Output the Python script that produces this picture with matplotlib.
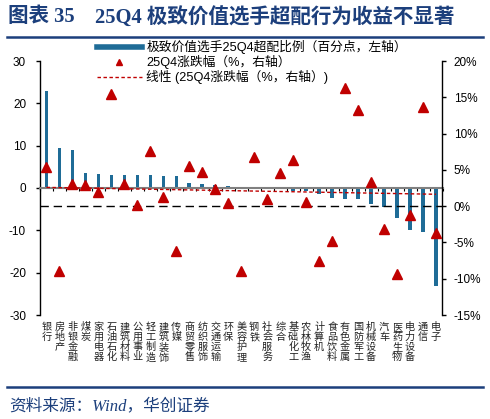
import numpy as np
import matplotlib
matplotlib.use('Agg')
import matplotlib.pyplot as plt
from matplotlib.lines import Line2D
from matplotlib.ticker import FuncFormatter

plt.rcParams['font.family'] = ['Liberation Sans', 'Noto Sans CJK SC']
plt.rcParams['axes.unicode_minus'] = False

# 申万一级行业，按超配比例排序
industries = ['银行', '房地产', '非银金融', '煤炭', '家用电器', '石油石化', '建筑材料',
              '公用事业', '轻工制造', '建筑装饰', '传媒', '商贸零售', '纺织服饰', '交通运输',
              '环保', '美容护理', '钢铁', '社会服务', '综合', '基础化工', '农林牧渔', '计算机',
              '食品饮料', '有色金属', '国防军工', '机械设备', '汽车', '医药生物', '电力设备',
              '通信', '电子']
# 极致价值选手25Q4超配比例（百分点，左轴）
overweight = [23.0, 9.4, 9.0, 3.6, 3.3, 3.1, 3.0, 3.0, 3.0, 2.8, 2.8, 1.25, 0.95, 0.8,
              0.45, 0.25, 0.1, 0.0, -0.15, -0.7, -0.7, -1.3, -2.4, -2.5, -2.6, -3.85,
              -4.5, -7.1, -10.0, -10.5, -23.2]
# 25Q4涨跌幅（%，右轴）
ret_q4 = [5.4, -8.9, 3.0, 2.9, 2.0, 15.4, 3.0, 0.1, 7.6, 1.25, -6.2, 5.5, 4.7, 2.3,
          0.4, -8.9, 6.8, 1.0, 4.5, 6.3, 0.6, -7.6, -4.8, 16.3, 13.2, 3.3, -3.2, -9.3,
          -1.25, 13.7, -3.7]

navy = '#1c3f7c'
bar_blue = '#1f6c97'
red = '#c00000'

x = np.arange(len(industries))
fit = np.polyfit(x, ret_q4, 1)
trend = np.polyval(fit, x)

fig = plt.figure(figsize=(4.9, 4.19), dpi=100)
ax = fig.add_axes([40 / 490, 1 - 315 / 419, 402.5 / 490, 254 / 419])
ax2 = ax.twinx()

ax.bar(x, overweight, width=0.28, color=bar_blue, zorder=2)
ax.set_xlim(-0.5, len(industries) - 0.5)
ax.set_ylim(-30, 30)
ax.set_yticks([-30, -20, -10, 0, 10, 20, 30])
ax.tick_params(axis='y', direction='out', length=3, width=1, pad=7, labelsize=8.5)
ax.spines['top'].set_visible(False)
ax.spines['right'].set_visible(False)
ax.spines['left'].set_linewidth(1)
ax.spines['bottom'].set_position(('data', 0))
ax.spines['bottom'].set_color('#808080')
ax.spines['bottom'].set_linewidth(1.5)
ax.set_xticks(x)
ax.set_xticklabels([])
ax.tick_params(axis='x', which='major', length=0)
ax.set_xticks(np.arange(len(industries) + 1) - 0.5, minor=True)
ax.tick_params(axis='x', which='minor', direction='out', length=2.5, width=0.8, color='black')

for i, name in enumerate(industries):
    ax.text(i, -0.028, '\n'.join(name), transform=ax.get_xaxis_transform(),
            ha='center', va='top', fontsize=7.3, linespacing=1.0,
            family=['Noto Sans CJK SC'], color='#222222')

ax2.set_ylim(-15, 20)
ax2.set_yticks([-15, -10, -5, 0, 5, 10, 15, 20])
ax2.yaxis.set_major_formatter(FuncFormatter(lambda v, p: '%d%%' % v))
ax2.tick_params(axis='y', direction='out', length=3, width=1, pad=5, labelsize=8.5)
for s in ['top', 'left', 'bottom']:
    ax2.spines[s].set_visible(False)
ax2.spines['right'].set_linewidth(1)
ax2.axhline(0, color='black', lw=1, ls=(0, (6, 3.5)), zorder=1)
ax2.plot(x, trend, color=red, lw=1, ls=(0, (2.5, 1.8)), zorder=2)
ax2.plot(x, ret_q4, ls='none', marker='^', ms=7, color=red, zorder=3)

handles = [Line2D([], [], color=bar_blue, lw=4),
           Line2D([], [], ls='none', marker='^', ms=5, color=red),
           Line2D([], [], color=red, lw=1, ls=(0, (2.5, 1.8)))]
labels = ['极致价值选手25Q4超配比例（百分点，左轴）', '25Q4涨跌幅（%，右轴）',
          '线性 (25Q4涨跌幅（%，右轴）)']
fig.legend(handles, labels, loc='upper left', bbox_to_anchor=(97 / 490, 1 - 40 / 419),
           frameon=False, handlelength=3.5, handletextpad=0.35,
           labelspacing=0.08, borderpad=0, borderaxespad=0,
           prop={'family': ['Liberation Sans', 'Noto Sans CJK SC'], 'size': 9.2})

# 标题、分隔线与资料来源
fig.text(8 / 490, 1 - 17 / 419, '图表 35', fontsize=14.8, fontweight='bold', color=navy,
         va='center', ha='left', family=['Liberation Serif', 'Noto Sans CJK SC'])
fig.text(95 / 490, 1 - 17 / 419, '25Q4 极致价值选手超配行为收益不显著', fontsize=14.8,
         fontweight='bold', color=navy, va='center', ha='left',
         family=['Liberation Serif', 'Noto Sans CJK SC'])
fig.add_artist(Line2D([7 / 490, 483 / 490], [1 - 37.5 / 419, 1 - 37.5 / 419],
                      color=navy, lw=1.8, transform=fig.transFigure))
fig.add_artist(Line2D([7 / 490, 483 / 490], [1 - 387 / 419, 1 - 387 / 419],
                      color=navy, lw=1.8, transform=fig.transFigure))
fig.text(9 / 490, 1 - 406 / 419, '资料来源：Wind，华创证券', fontsize=12, style='italic',
         color=navy, va='center', ha='left',
         family=['Liberation Serif', 'Noto Sans CJK SC'])

fig.savefig('out.png', dpi=100)
